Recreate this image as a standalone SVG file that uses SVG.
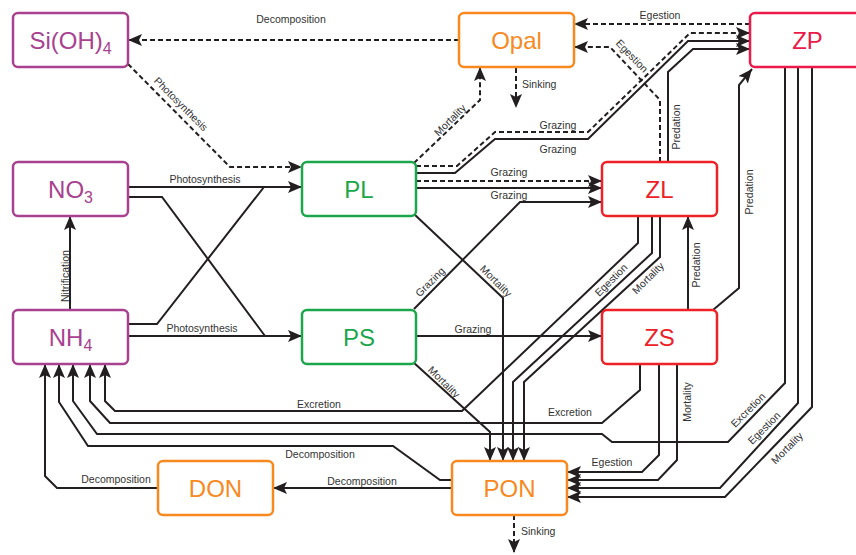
<svg xmlns="http://www.w3.org/2000/svg" width="856" height="555" viewBox="0 0 856 555">
<defs>
<marker id="ah" viewBox="0 0 14 12" refX="14" refY="6" markerWidth="14" markerHeight="12" markerUnits="userSpaceOnUse" orient="auto"><path d="M0,0 L14,6 L0,12 L3,6 z" fill="#231f20"/></marker>
</defs>
<style>
.nb{fill:#fff;stroke-width:2.5}
.nt{font-family:"Liberation Sans",Arial,sans-serif;font-size:24px;text-anchor:middle}
.sub{font-size:16px}
.pu rect{stroke:#a8418f}.pu text{fill:#a8418f}
.or rect{stroke:#f7891f}.or text{fill:#f7891f}
.gr rect{stroke:#1ca64b}.gr text{fill:#1ca64b}
.rd rect{stroke:#ee2127}.rd text{fill:#ee2127}
.pk rect{stroke:#ea1a4a}.pk text{fill:#ea1a4a}
.e{fill:none;stroke:#231f20;stroke-width:2}
.d{stroke-dasharray:5 3}
.a{marker-end:url(#ah)}
.l{font-family:"Liberation Sans",Arial,sans-serif;font-size:10.5px;fill:#333;text-anchor:middle}
</style>
<g id="connectors">
<path class="e a" d="M128,187 H302"/>
<path class="e" d="M128,197 H162 L265,336"/>
<path class="e a" d="M128,336 H302"/>
<path class="e" d="M128,324 H157 L264,187"/>
<path class="e a" d="M70,310 V216"/>
<path class="e a" d="M416,173 H455 L495,139 H588 L688,41 H750"/>
<path class="e a" d="M416,188 H602"/>
<path class="e a" d="M414,309 L520,202 H602"/>
<path class="e a" d="M416,336 H602"/>
<path class="e a" d="M414,214 L503,298 V461"/>
<path class="e a" d="M413,362 L490,432 V461"/>
<path class="e a" d="M652,216 V253 L513,382 V461"/>
<path class="e a" d="M660,216 V257 L524,382 V461"/>
<path class="e a" d="M638,216 V243 L462,411 H115 L105,401 V364"/>
<path class="e a" d="M640,364 V390 L602,423 H110 L90,401 V364"/>
<path class="e a" d="M785,68 V383 L728,442 H612 L602,434 H97 L73,401 V364"/>
<path class="e a" d="M452,480 H440 L393,446 H88 L59,402 V364"/>
<path class="e a" d="M158,488 H57 L45,476 V364"/>
<path class="e a" d="M452,488 H273"/>
<path class="e a" d="M659,364 V455 L642,472 H567"/>
<path class="e a" d="M677,364 V460 L658,480 H567"/>
<path class="e a" d="M798,68 V403 L720,488 H567"/>
<path class="e a" d="M812,68 V407 L725,497 H567"/>
<path class="e a" d="M688,310 V216"/>
<path class="e a" d="M713,310 L739,288 V85 L752,69"/>
<path class="e a" d="M668,162 V72 L693,49 H750"/>
<path class="e d a" d="M459,40 H128"/>
<path class="e d a" d="M128,64 L230,167 H302"/>
<path class="e d a" d="M414,163 L480,100 V67"/>
<path class="e d a" d="M516,68 V108"/>
<path class="e d a" d="M416,166 H457 L495,132 H588 L690,33 H750"/>
<path class="e d a" d="M416,181 H602"/>
<path class="e d a" d="M660,162 V100 L610,47 H574"/>
<path class="e d a" d="M750,24 H574"/>
<path class="e d a" d="M514,515 V553"/>
<text class="l" x="291" y="23">Decomposition</text>
<text class="l" transform="translate(181,104) rotate(45)" dy="3.7">Photosynthesis</text>
<text class="l" x="205" y="183">Photosynthesis</text>
<text class="l" x="202" y="332">Photosynthesis</text>
<text class="l" transform="translate(69,276) rotate(-90)">Nitrification</text>
<text class="l" transform="translate(450,120) rotate(-45)" dy="3.7">Mortality</text>
<text class="l" x="522" y="88" style="text-anchor:start">Sinking</text>
<text class="l" x="660" y="19">Egestion</text>
<text class="l" transform="translate(632,56) rotate(46)" dy="3.7">Egestion</text>
<text class="l" x="558" y="128.5">Grazing</text>
<text class="l" x="558" y="152.5">Grazing</text>
<text class="l" x="509" y="176">Grazing</text>
<text class="l" x="509" y="198.5">Grazing</text>
<text class="l" transform="translate(430,282) rotate(-45)" dy="3.7">Grazing</text>
<text class="l" transform="translate(496,281) rotate(45)" dy="3.7">Mortality</text>
<text class="l" x="473" y="332.5">Grazing</text>
<text class="l" transform="translate(611,280) rotate(-45)" dy="3.7">Egestion</text>
<text class="l" transform="translate(648,278) rotate(-45)" dy="3.7">Mortality</text>
<text class="l" transform="translate(680,127) rotate(-90)">Predation</text>
<text class="l" transform="translate(700,265) rotate(-90)">Predation</text>
<text class="l" transform="translate(753,192) rotate(-90)">Predation</text>
<text class="l" transform="translate(444,382) rotate(45)" dy="3.7">Mortality</text>
<text class="l" x="319" y="408">Excretion</text>
<text class="l" x="570" y="416">Excretion</text>
<text class="l" transform="translate(691,402) rotate(-90)">Mortality</text>
<text class="l" x="612" y="466">Egestion</text>
<text class="l" x="320" y="457.5">Decomposition</text>
<text class="l" x="116" y="483">Decomposition</text>
<text class="l" x="362" y="485">Decomposition</text>
<text class="l" transform="translate(748,410) rotate(-45)" dy="3.7">Excretion</text>
<text class="l" transform="translate(764,428) rotate(-45)" dy="3.7">Egestion</text>
<text class="l" transform="translate(787,448) rotate(-45)" dy="3.7">Mortality</text>
<text class="l" x="521" y="535" style="text-anchor:start">Sinking</text>
</g>
<g id="SiOH4" class="pu"><rect class="nb" x="13" y="13" width="115" height="54" rx="5"/><text class="nt" x="70.5" y="48.5">Si(OH)<tspan class="sub" dy="5">4</tspan></text></g>
<g id="Opal" class="or"><rect class="nb" x="459" y="13" width="115" height="54" rx="5"/><text class="nt" x="516.5" y="48.5">Opal</text></g>
<g id="ZP" class="pk"><rect class="nb" x="750" y="13" width="115" height="54" rx="5"/><text class="nt" x="807.5" y="48.5">ZP</text></g>
<g id="NO3" class="pu"><rect class="nb" x="13" y="162" width="115" height="54" rx="5"/><text class="nt" x="70.5" y="197.5">NO<tspan class="sub" dy="5">3</tspan></text></g>
<g id="PL" class="gr"><rect class="nb" x="302" y="162" width="114" height="54" rx="5"/><text class="nt" x="359" y="197.5">PL</text></g>
<g id="ZL" class="rd"><rect class="nb" x="602" y="162" width="115" height="54" rx="5"/><text class="nt" x="659.5" y="197.5">ZL</text></g>
<g id="NH4" class="pu"><rect class="nb" x="13" y="310" width="115" height="54" rx="5"/><text class="nt" x="70.5" y="345.5">NH<tspan class="sub" dy="5">4</tspan></text></g>
<g id="PS" class="gr"><rect class="nb" x="302" y="310" width="114" height="54" rx="5"/><text class="nt" x="359" y="345.5">PS</text></g>
<g id="ZS" class="rd"><rect class="nb" x="602" y="310" width="115" height="54" rx="5"/><text class="nt" x="659.5" y="345.5">ZS</text></g>
<g id="DON" class="or"><rect class="nb" x="158" y="461" width="115" height="54" rx="5"/><text class="nt" x="215.5" y="496.5">DON</text></g>
<g id="PON" class="or"><rect class="nb" x="452" y="461" width="115" height="54" rx="5"/><text class="nt" x="509.5" y="496.5">PON</text></g>
</svg>
